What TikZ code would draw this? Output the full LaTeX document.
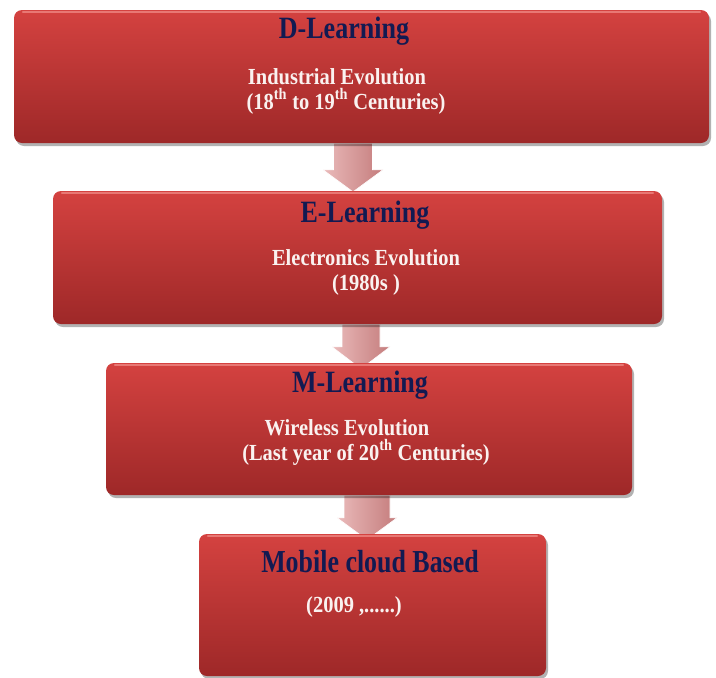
\documentclass[tikz,border=0pt]{standalone}
\usepackage{fontspec}
\setmainfont{Liberation Serif}
\newfontfamily\ttlfont[FakeStretch=0.84]{Liberation Serif}
\newfontfamily\mobfont[FakeStretch=0.81]{Liberation Serif}
\newfontfamily\subfont[FakeStretch=0.89]{Liberation Serif}
\usetikzlibrary{calc,shadows}
\definecolor{boxtop}{RGB}{212,66,64}
\definecolor{boxbot}{RGB}{158,40,40}
\definecolor{boxhi}{RGB}{232,120,116}
\definecolor{navy}{RGB}{18,26,82}
\definecolor{subwhite}{RGB}{250,242,240}
\definecolor{arrL}{RGB}{234,186,186}
\definecolor{arrR}{RGB}{196,124,124}
\tikzset{
  redbox/.style={rectangle, rounded corners=8pt, inner sep=0pt,
    top color=boxtop, bottom color=boxbot,
    drop shadow={shadow xshift=2pt, shadow yshift=-3pt, opacity=0.3, fill=black}},
  hiline/.style={draw=boxhi, line width=1.6pt, line cap=round},
  titletext/.style={anchor=base, inner sep=0pt, text=navy, font=\ttlfont\bfseries\fontsize{31}{31}\selectfont},
  mobtext/.style={anchor=base, inner sep=0pt, text=navy, font=\mobfont\bfseries\fontsize{32}{32}\selectfont},
  subtext/.style={anchor=base, inner sep=0pt, text=subwhite, font=\subfont\bfseries\fontsize{23}{23}\selectfont},
  arrowfill/.style={left color=arrL, right color=arrR, draw=white, line width=0.6pt}
}
% #1 from node, #2 to node, #3 centre x, #4 half shaft, #5 half head, #6 head length, #7 tip overlap
\newcommand{\blockarrow}[7]{%
  \path[arrowfill] let \p1=(#1.south), \p2=(#2.north) in
    (#3pt-#4pt,\y1) -- (#3pt-#4pt,\y2-#7pt+#6pt) -- (#3pt-#5pt,\y2-#7pt+#6pt)
    -- (#3pt,\y2-#7pt) -- (#3pt+#5pt,\y2-#7pt+#6pt) -- (#3pt+#4pt,\y2-#7pt+#6pt)
    -- (#3pt+#4pt,\y1) -- cycle;
}
\begin{document}
\begin{tikzpicture}[x=1pt,y=-1pt]
\useasboundingbox (0,0) rectangle (716,678);
\path (361.5,76.5) coordinate (c1) (357.5,257.5) coordinate (c2)
      (369,429) coordinate (c3) (372.5,605) coordinate (c4);
% guide nodes for arrows, drawn first so boxes cover the tips
\node[minimum width=695pt, minimum height=133pt, inner sep=0pt] (g1) at (c1) {};
\node[minimum width=609pt, minimum height=133pt, inner sep=0pt] (g2) at (c2) {};
\node[minimum width=526pt, minimum height=132pt, inner sep=0pt] (g3) at (c3) {};
\node[minimum width=347pt, minimum height=142pt, inner sep=0pt] (g4) at (c4) {};
\blockarrow{g1}{g2}{353}{19.5}{30}{22}{1}
\blockarrow{g2}{g3}{361}{19}{29}{22}{6}
\blockarrow{g3}{g4}{367}{23}{30}{22}{6}
% boxes
\node[redbox, minimum width=695pt, minimum height=133pt] (b1) at (c1) {};
\node[redbox, minimum width=609pt, minimum height=133pt] (b2) at (c2) {};
\node[redbox, minimum width=526pt, minimum height=132pt] (b3) at (c3) {};
\node[redbox, minimum width=347pt, minimum height=142pt] (b4) at (c4) {};
\foreach \b in {b1,b2,b3,b4}{
  \draw[hiline] ([xshift=9pt,yshift=-2.2pt]\b.north west) -- ([xshift=-9pt,yshift=-2.2pt]\b.north east);
}
% texts
\node[titletext] (t1) at (344,38) {D-Learning};
\node[subtext] (s1a) at (337,84) {Industrial Evolution};
\node[subtext] (s1b) at (346,109) {(18\textsuperscript{th} to 19\textsuperscript{th} Centuries)};
\node[titletext] (t2) at (365,222) {E-Learning};
\node[subtext] (s2a) at (366,265) {Electronics Evolution};
\node[subtext] (s2b) at (366,290) {(1980s )};
\node[titletext] (t3) at (360,392) {M-Learning};
\node[subtext] (s3a) at (347,435) {Wireless Evolution};
\node[subtext] (s3b) at (366,460) {(Last year of 20\textsuperscript{th} Centuries)};
\node[mobtext] (t4) at (370,572) {Mobile cloud Based};
\node[subtext] (s4a) at (354,612) {(2009 ,......)};
\end{tikzpicture}
\end{document}
